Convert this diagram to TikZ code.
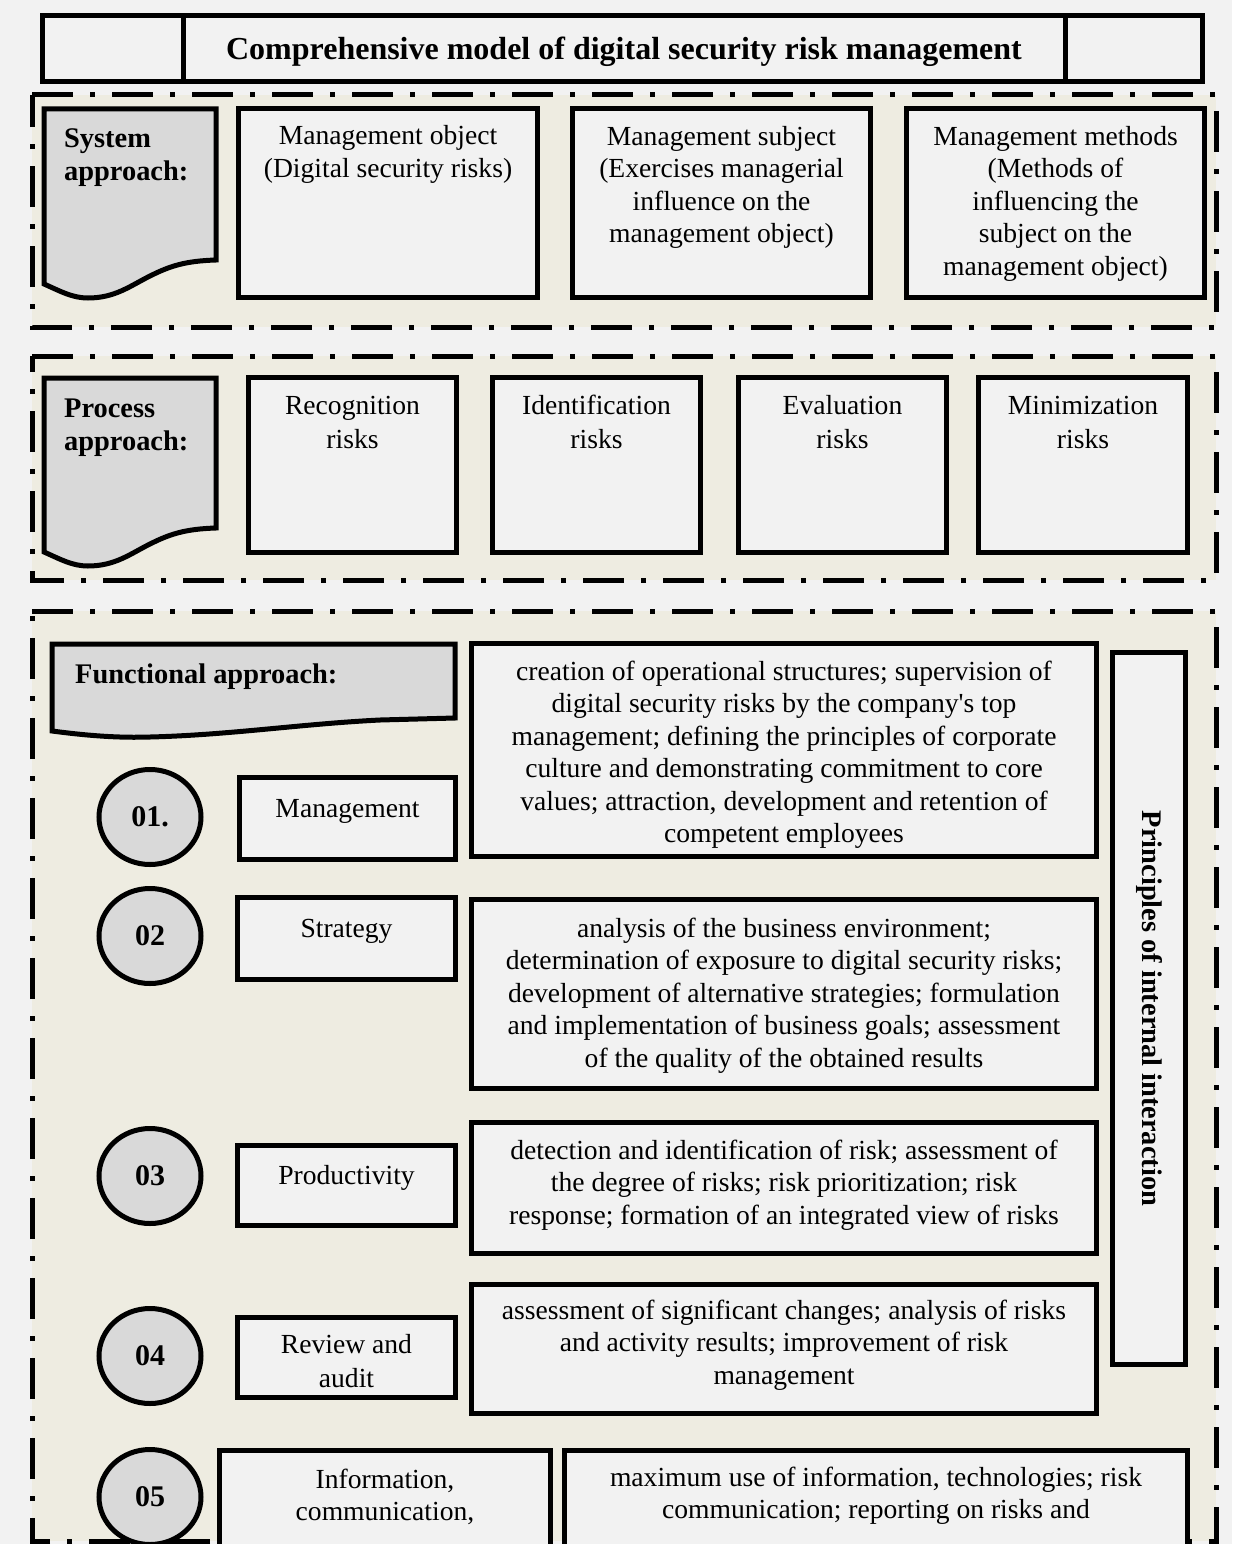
\documentclass[tikz,border=0pt]{standalone}
\usepackage{fontspec}
\setmainfont{Liberation Serif}
\usetikzlibrary{shapes.geometric}
\definecolor{pagebg}{HTML}{F2F2F2}
\definecolor{tanbg}{HTML}{EEECE1}
\definecolor{boxfill}{HTML}{F2F2F2}
\definecolor{greyfill}{HTML}{D9D9D9}
\newcommand{\bodyfont}{\fontsize{27.6}{32.5}\selectfont}
\newcommand{\bodyfontwide}{\fontsize{27.6}{34.5}\selectfont}
\newcommand{\lblfont}{\fontsize{28.4}{33}\selectfont\bfseries}
\newcommand{\boxat}[6][boxs]{\node[#1, anchor=north west, inner sep=0pt, outer sep=0pt,
  minimum width={(#5-#3)*1pt}, minimum height={(#6-#4)*1pt}] (#2) at (#3,#4) {};}
\newcommand{\panelat}[4]{\fill[tanbg] (#1,#2) rectangle (#3,#4);
  \draw[panelline] (#1,#2) -- (#3,#2) -- (#3,#4) -- (#1,#4) -- cycle;}
\tikzset{
  panelline/.style={line width=5pt, dash pattern=on 41pt off 17pt on 5pt off 17pt},
  boxs/.style={rectangle, draw, line width=5pt, fill=boxfill},
  docshape/.style={draw, line width=5pt, fill=greyfill, line join=miter},
  txt/.style={anchor=base, align=center, inner sep=0pt, font=\bodyfont},
  txtwide/.style={anchor=base, align=center, inner sep=0pt, font=\bodyfontwide},
  lbl/.style={anchor=base west, align=left, inner sep=0pt, font=\lblfont},
  numc/.style={ellipse, draw, line width=5pt, fill=greyfill, minimum width=102pt,
    minimum height=95pt, inner sep=0pt, font=\fontsize{30}{30}\selectfont\bfseries},
}
\begin{document}
\begin{tikzpicture}[x=1pt,y=-1pt]
\useasboundingbox (0,0) rectangle (1232,1544);
\clip (0,0) rectangle (1232,1544);
\fill[pagebg] (0,0) rectangle (1232,1544);

% ---------- title bar ----------
\boxat{tl}{42.5}{15.5}{183}{81.5}
\boxat{tm}{183}{15.5}{1065}{81.5}
\boxat{tr}{1065}{15.5}{1202.5}{81.5}
\node[anchor=base, inner sep=0pt, font=\fontsize{32}{36}\selectfont\bfseries] (title) at (624,60)
  {Comprehensive model of digital security risk management};

% ---------- panels ----------
\panelat{32}{95}{1216}{327}
\panelat{32}{356}{1216}{580}
\panelat{32}{611}{1216}{1541}

% ---------- system approach ----------
\draw[docshape] (44,109) -- (216,109) -- (216,260)
  .. controls (185,261) and (170,266) .. (150,276)
  .. controls (130,286) and (115,298) .. (88,298)
  .. controls (72,298) and (60,291) .. (44,284) -- cycle;
\node[lbl] (sys) at (64,180) {System\\approach:};

\boxat{mobj}{238.5}{108.5}{537.5}{297.5}
\boxat{msub}{572.5}{108.5}{870.5}{297.5}
\boxat{mmet}{906.5}{108.5}{1204.5}{297.5}
\node[txt] (tobj) at (388,177.5) {Management object\\(Digital security risks)};
\node[txt] (tsub) at (721.5,242.5) {Management subject\\(Exercises managerial\\influence on the\\management object)};
\node[txt] (tmet) at (1055.5,275) {Management methods\\(Methods of\\influencing the\\subject on the\\management object)};

% ---------- process approach ----------
\draw[docshape] (44,378) -- (216,378) -- (216,528)
  .. controls (185,529) and (170,534) .. (150,544)
  .. controls (130,554) and (115,566) .. (88,566)
  .. controls (72,566) and (60,559) .. (44,552) -- cycle;
\node[lbl] (proc) at (64,450) {Process\\approach:};

\boxat{rec}{248.5}{377.5}{456.5}{552.5}
\boxat{ide}{492.5}{377.5}{700.5}{552.5}
\boxat{eva}{738.5}{377.5}{946.5}{552.5}
\boxat{mini}{978.5}{377.5}{1187.5}{552.5}
\node[txtwide] (trec) at (352.5,448.5) {Recognition\\risks};
\node[txtwide] (tide) at (596.5,448.5) {Identification\\risks};
\node[txtwide] (teva) at (842.5,448.5) {Evaluation\\risks};
\node[txtwide] (tmini) at (1083,448.5) {Minimization\\risks};

% ---------- functional approach ----------
\draw[docshape] (52,644) -- (455,644) -- (455,718) -- (380,720)
  .. controls (300,724) and (230,735) .. (150,737)
  .. controls (120,738) and (90,736) .. (52,731) -- cycle;
\node[lbl] (func) at (75,683) {Functional approach:};

\node[numc] (c1) at (150,817) {01.};
\node[numc] (c2) at (150,936) {02};
\node[numc] (c3) at (150,1176) {03};
\node[numc] (c4) at (150,1356) {04};
\node[numc] (c5) at (150,1497) {05};

\boxat{fman}{239.5}{777.5}{455.5}{859.5}
\boxat{fstr}{237.5}{897.5}{455.5}{979.5}
\boxat{fpro}{237.5}{1145.5}{455.5}{1225.5}
\boxat{frev}{237.5}{1317.5}{455.5}{1397.5}
\boxat{finf}{219.5}{1450.5}{550.5}{1560}
\node[txt] (tman) at (347.5,817) {Management};
\node[txt] (tstr) at (346.5,937) {Strategy};
\node[txt] (tpro) at (346.5,1184) {Productivity};
\node[txtwide] (trev) at (346.5,1387.5) {Review and\\audit};
\node[txt] (tinf) at (385,1520.5) {Information,\\communication,};

\boxat{d1}{471.5}{643}{1096.5}{856}
\boxat{d2}{471.5}{899}{1096.5}{1088}
\boxat{d3}{471.5}{1122.5}{1096.5}{1253.5}
\boxat{d4}{471.5}{1284.5}{1096.5}{1413.5}
\boxat{d5}{564.5}{1450.5}{1187.5}{1560}
\node[txt] (td1) at (784,842.5) {creation of operational structures; supervision of\\digital security risks by the company\textquotesingle s top\\management; defining the principles of corporate\\culture and demonstrating commitment to core\\values; attraction, development and retention of\\competent employees};
\node[txt] (td2) at (784,1067) {analysis of the business environment;\\determination of exposure to digital security risks;\\development of alternative strategies; formulation\\and implementation of business goals; assessment\\of the quality of the obtained results};
\node[txt] (td3) at (784,1224) {detection and identification of risk; assessment of\\the degree of risks; risk prioritization; risk\\response; formation of an integrated view of risks};
\node[txt] (td4) at (784,1384) {assessment of significant changes; analysis of risks\\and activity results; improvement of risk\\management};
\node[txt] (td5) at (876,1518.5) {maximum use of information, technologies; risk\\communication; reporting on risks and};

\boxat{prin}{1112.5}{652.5}{1185.5}{1364.5}
\node[rotate=-90, inner sep=0pt, font=\lblfont] (tprin) at (prin.center) {Principles of internal interaction};
\end{tikzpicture}
\end{document}
